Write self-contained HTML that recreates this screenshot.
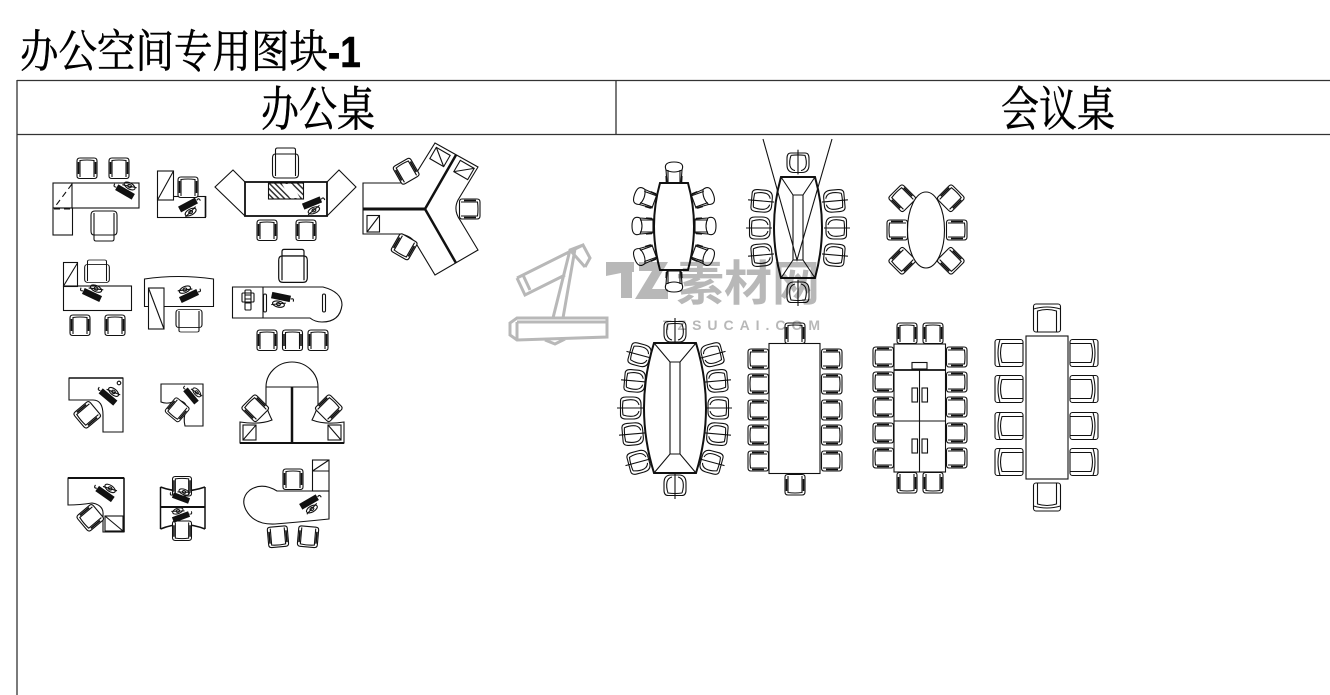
<!DOCTYPE html>
<html lang="zh"><head><meta charset="utf-8"><title>办公空间专用图块-1</title>
<style>
html,body{margin:0;padding:0;background:#fff;width:1330px;height:695px;overflow:hidden}
svg{display:block}
.l *, .l{fill:none;stroke:#111;stroke-width:1.1}
.f{fill:#fff !important}
.t{stroke-width:1.6 !important}
.k{fill:#111 !important;stroke:#111}
text{font-family:"Liberation Sans","Noto Serif CJK SC",serif;fill:#000;stroke:#000;stroke-width:.45}
.wm{font-family:"Liberation Sans","Noto Sans CJK SC",sans-serif;font-weight:700;fill:#b8b8b8;stroke:none}
.mark{mix-blend-mode:multiply}
</style></head><body>
<svg width="1330" height="695" viewBox="0 0 1330 695" xmlns="http://www.w3.org/2000/svg">
<defs>
<pattern id="h" width="4" height="4" patternUnits="userSpaceOnUse" patternTransform="rotate(-45)"><rect width="1.500" height="4" fill="#333"/></pattern>
<g id="c"><path class="f" d="M-10,-7Q-10,-10 -7,-10H7Q10,-10 10,-7V8Q10,10.500 7,10.500H-7Q-10,10.500 -10,8Z"/><path d="M-7,-7.500Q0,-8.500 7,-7.500M-7,-8V9M7,-8V9"/><path class="t" d="M-8.500,-6V6M8.500,-6V6"/></g>
<g id="x"><path class="f" d="M-7,-10.500H7Q11,-10.500 11,-5V2Q11,10 4,10H-4Q-11,10 -11,2V-5Q-11,-10.500 -7,-10.500Z"/><path d="M-7,-8Q0,-9 7,-8Q9,-2 8,3Q7,7 3,8M-7,-8Q-9,-2 -8,3Q-7,7 -3,8"/><path d="M0,-14V12"/></g>
<g id="d"><path class="f" d="M-7,10L-8,-3Q-11,-11 0,-11Q11,-11 8,-3L7,10Z"/><path d="M-8,-3Q0,1 8,-3M-6,-3V10M6,-3V10"/><path class="t" d="M-7.500,9L-7.800,3M7.500,9L7.800,3"/></g>
<g id="a"><rect class="f" x="-13.500" y="-14" width="27" height="28" rx="2.500"/><path d="M-9.500,14V-7Q0,-10 9.500,-7V14M-13.500,-9Q0,-13 13.500,-9"/></g>
<g id="b"><path class="f" d="M-10,-10V-14Q-10,-16 -8,-16H8Q10,-16 10,-14V-10Z"/><path class="f" d="M-13,-6Q-13,-10 -10,-10H10Q13,-10 13,-6V10Q13,14 9,14H-9Q-13,14 -13,10Z"/><path d="M-10,-10V12M10,-10V12"/></g>
<g id="p"><rect class="k" x="-9" y="-2.700" width="18" height="5.400"/><path d="M10,0q3,-2 3,2" /><ellipse cx="-1" cy="7.500" rx="6" ry="3"/><ellipse cx="-1" cy="7.500" rx="2" ry="1.500"/><path d="M-8,9.500L6,5"/></g>
</defs>

<!-- title and frame -->
<text transform="translate(20,67) scale(1,1.17)" font-size="38.500">办公空间专用图块<tspan font-size="37" font-weight="700">-1</tspan></text>
<path d="M17,80.500H1330M17,134.500H1330M17,80V695M616,80V134" fill="none" stroke="#333" stroke-width="1.300"/>
<text transform="translate(261,126) scale(1,1.25)" font-size="38">办公桌</text>
<text transform="translate(1001,126) scale(1,1.25)" font-size="38">会议桌</text>

<g class="l">
<!-- desk 1 -->
<rect x="53" y="183" width="86" height="25"/><rect x="53" y="208" width="19.500" height="27"/>
<path d="M72,183V208" /><path d="M72,184L54,208M54,209H72" stroke-dasharray="6 4"/>
<use href="#c" x="87" y="168"/><use href="#c" x="119" y="168"/>
<use href="#b" transform="translate(104,225) rotate(180)"/>
<use href="#p" transform="translate(125,192) rotate(210)"/>
<!-- desk 2 -->
<rect x="157.500" y="196.500" width="48" height="21"/><rect x="157.500" y="171" width="16" height="29" class="f"/><path d="M157.500,200L173.500,171"/>
<path class="t" d="M205.500,196V217"/>
<use href="#c" x="188" y="187"/>
<use href="#p" transform="translate(188,205) rotate(-28)"/>
<!-- desk 3 -->
<rect x="63.500" y="286" width="68" height="24.500"/><rect x="63.500" y="262.500" width="14" height="24"/><path d="M63.500,286L77.500,263"/>
<use href="#b" transform="translate(97,272) scale(.95,.75)"/>
<use href="#c" x="80" y="325"/><use href="#c" x="115" y="325"/>
<use href="#p" transform="translate(92,295) rotate(205)"/>
<!-- desk 4 -->
<path d="M144.500,306.500V279Q178,274 213.500,279V306.500Z"/><rect x="148.500" y="288" width="15.500" height="41" class="f"/><path d="M148.500,288L164,329"/>
<use href="#b" transform="translate(189,320) rotate(180) scale(1,.75)"/>
<use href="#p" transform="translate(189,296) rotate(-25) scale(1,-1)"/>
<!-- desk 5 -->
<path d="M245,182L233,170L215,187L245,216M327,182L339,170L356,187L327,216"/>
<rect x="245" y="182" width="82" height="34" style="stroke-width:1.800"/>
<rect x="268.500" y="183" width="35" height="16" style="fill:url(#h)"/>
<path d="M282,184H292L300,198H290Z" class="f" style="stroke:none"/>
<use href="#b" transform="translate(285.500,164)"/>
<use href="#c" x="267" y="230"/><use href="#c" x="306" y="230"/>
<use href="#p" transform="translate(312,203) rotate(-22)"/>
<!-- Y desk -->
<path d="M363,183H400Q413,181 417,172L435,143L478,167L458,200Q453,210 460,220L478,250L435,275L417,245Q411,235 400,234H363Z"/>
<path d="M363,209H425" style="stroke-width:3"/><path d="M425,209L456,155M425,209L456,263" style="stroke-width:2.500"/>
<rect x="367" y="215.500" width="12.500" height="16.500"/><path d="M367,232L379.500,215.500"/>
<g transform="translate(440,157) rotate(30)"><rect x="-8" y="-6.500" width="16" height="13"/><path d="M-8,-6.500L8,6.500"/></g>
<g transform="translate(464,170) rotate(30)"><rect x="-8" y="-6.500" width="16" height="13"/><path d="M-8,6.500L8,-6.500"/></g>
<use href="#c" transform="translate(406,171) rotate(-30)"/>
<use href="#c" transform="translate(470,209) rotate(90)"/>
<use href="#c" transform="translate(404,247) rotate(-150)"/>
<!-- desk 6 -->
<path d="M232.500,287H323Q342,292 342,305Q340,322 322,322Q315,322 310,318H232.500ZM263,287V318"/>
<use href="#b" transform="translate(293,267) scale(1.100)"/>
<use href="#c" x="267" y="340"/><use href="#c" x="292.500" y="340"/><use href="#c" x="318" y="340"/>
<use href="#p" transform="translate(281,297) rotate(12)"/>
<rect x="263.500" y="294" width="3" height="18" rx="1.500"/><rect x="322.500" y="294" width="3" height="18" rx="1.500"/>
<rect x="242" y="293" width="12" height="9" rx="1"/><rect x="245" y="290" width="6" height="20" rx="1"/><path d="M245,295H251M245,299H251M245,303H251"/>
<!-- L1 -->
<path d="M69,378H123V432H103V415Q103,400 93,400H69Z"/><path d="M69,378H123" style="stroke-width:1.500"/>
<circle cx="119" cy="383" r="1.800"/>
<use href="#c" transform="translate(87,415) rotate(-130)"/>
<use href="#p" transform="translate(108,397) rotate(220)"/>
<!-- L2 -->
<path d="M161,384H203V426H185Q183,418 186,410Q188,402 178,400Q168,405 161,402Z"/>
<use href="#c" transform="translate(177,410) rotate(-140) scale(.9)"/>
<use href="#p" transform="translate(191,396) rotate(230) scale(.9)"/>
<!-- L3 -->
<path d="M266,387A26,25 0 0 1 318,387ZM266,387V405Q268,412 272,420Q260,425 240,422V443H344V422Q325,425 312,420Q316,412 318,405V387"/>
<path d="M292,387V443" style="stroke-width:2.500"/><path d="M240,443H344" style="stroke-width:2"/>
<rect x="243" y="425" width="13" height="15"/><path d="M243,440L256,425"/>
<rect x="328" y="425" width="13" height="15"/><path d="M328,425L341,440"/>
<use href="#c" transform="translate(255,408) rotate(-45)"/>
<use href="#c" transform="translate(329,408) rotate(45)"/>
<!-- L4 -->
<path d="M68,478H124V532H103V515Q104,505 92,503Q80,505 68,505Z"/><path d="M68,478H124" style="stroke-width:2"/><path d="M124,478V532" style="stroke-width:1.500"/>
<rect x="105" y="516" width="18" height="15"/><path d="M105,516L123,531"/>
<use href="#c" transform="translate(90,518) rotate(-130)"/>
<use href="#p" transform="translate(105,494) rotate(215)"/>
<!-- L5 -->
<path d="M160.500,487V529M205,487V529M160.500,487Q182,495 205,487M160.500,507H205M160.500,529Q182,520 205,529" style="stroke-width:1.500"/>
<use href="#c" transform="translate(182,486) scale(.95)"/>
<use href="#c" transform="translate(182,531) rotate(180) scale(.95)"/>
<use href="#p" transform="translate(181,498) rotate(200) scale(.9)"/>
<use href="#p" transform="translate(181,517) rotate(-20) scale(.9,-.9)"/>
<path d="M160.500,507H205" style="stroke-width:2"/>
<!-- L6 -->
<rect x="312.500" y="460" width="16.500" height="31"/><path d="M312.500,471H329M312.500,471L329,460"/>
<path d="M329,491H277Q262,482 250,490Q240,498 246,510Q254,525 275,524Q300,522 329,519Z"/>
<use href="#c" transform="translate(293,479)"/>
<use href="#c" transform="translate(278,537) rotate(175)"/>
<use href="#c" transform="translate(308,537) rotate(185)"/>
<use href="#p" transform="translate(309,502) rotate(-30)"/>

<!-- table 1 -->
<use href="#d" x="674" y="173"/><use href="#d" transform="translate(674,281) rotate(180)"/>
<use href="#d" transform="translate(645,198) rotate(-70)"/><use href="#d" transform="translate(643,226) rotate(-90)"/><use href="#d" transform="translate(645,255) rotate(-110)"/>
<use href="#d" transform="translate(703,198) rotate(70)"/><use href="#d" transform="translate(705,226) rotate(90)"/><use href="#d" transform="translate(703,255) rotate(110)"/>
<path class="f" d="M660,183H688Q700,226 688,270H660Q648,226 660,183Z" style="stroke-width:2"/>
<!-- table 2 -->
<use href="#x" transform="translate(798,163) scale(1,.95)"/><use href="#x" transform="translate(798,292) rotate(180)"/>
<use href="#x" transform="translate(762,201) rotate(-85)"/><use href="#x" transform="translate(760,228) rotate(-90)"/><use href="#x" transform="translate(762,255) rotate(-95)"/>
<use href="#x" transform="translate(834,201) rotate(85)"/><use href="#x" transform="translate(836,228) rotate(90)"/><use href="#x" transform="translate(834,255) rotate(95)"/>
<path class="f" d="M781,177H815Q829,227 815,278H781Q767,227 781,177Z" style="stroke-width:2"/>
<path d="M781,177L793,195H803L815,177M793,195V260M803,195V260M781,278L793,260H803L815,278"/>
<path d="M763,139L797,260L832,139"/>
<!-- table 3 ellipse -->
<use href="#c" transform="translate(902,198) rotate(-45)"/><use href="#c" transform="translate(951,198) rotate(45)"/>
<use href="#c" transform="translate(897,230) rotate(-90)"/><use href="#c" transform="translate(957,230) rotate(90)"/>
<use href="#c" transform="translate(902,261) rotate(-135)"/><use href="#c" transform="translate(951,261) rotate(135)"/>
<ellipse class="f" cx="926" cy="230" rx="18.500" ry="38"/>
<!-- table 4 -->
<use href="#x" x="675" y="332"/><use href="#x" transform="translate(675,485) rotate(180)"/>
<use href="#x" transform="translate(640,355) rotate(-75)"/><use href="#x" transform="translate(635,381) rotate(-85)"/><use href="#x" transform="translate(631,408) rotate(-90)"/><use href="#x" transform="translate(633,434) rotate(-95)"/><use href="#x" transform="translate(639,462) rotate(-105)"/>
<use href="#x" transform="translate(712,355) rotate(75)"/><use href="#x" transform="translate(717,381) rotate(85)"/><use href="#x" transform="translate(718,408) rotate(90)"/><use href="#x" transform="translate(717,434) rotate(95)"/><use href="#x" transform="translate(711,462) rotate(105)"/>
<path class="f" d="M654,343H696Q716,408 696,473H654Q634,408 654,343Z" style="stroke-width:2"/>
<path d="M654,343L670,362H680L696,343M670,362V454M680,362V454M654,473L670,454H680L696,473"/>
<!-- table 5 rect -->
<use href="#c" transform="translate(795,333)"/><use href="#c" transform="translate(795,485) rotate(180)"/>
<use href="#c" transform="translate(758,359) rotate(-90)"/><use href="#c" transform="translate(758,384) rotate(-90)"/><use href="#c" transform="translate(758,410) rotate(-90)"/><use href="#c" transform="translate(758,435) rotate(-90)"/><use href="#c" transform="translate(758,461) rotate(-90)"/>
<use href="#c" transform="translate(832,359) rotate(90)"/><use href="#c" transform="translate(832,384) rotate(90)"/><use href="#c" transform="translate(832,410) rotate(90)"/><use href="#c" transform="translate(832,435) rotate(90)"/><use href="#c" transform="translate(832,461) rotate(90)"/>
<rect class="f" x="769" y="343.500" width="51" height="130"/>
<!-- table 6 cabinets -->
<use href="#c" x="907" y="333"/><use href="#c" x="933" y="333"/>
<use href="#c" transform="translate(907,483) rotate(180)"/><use href="#c" transform="translate(933,483) rotate(180)"/>
<use href="#c" transform="translate(883,357) rotate(-90)"/><use href="#c" transform="translate(883,382) rotate(-90)"/><use href="#c" transform="translate(883,407) rotate(-90)"/><use href="#c" transform="translate(883,433) rotate(-90)"/><use href="#c" transform="translate(883,458) rotate(-90)"/>
<use href="#c" transform="translate(957,357) rotate(90)"/><use href="#c" transform="translate(957,382) rotate(90)"/><use href="#c" transform="translate(957,407) rotate(90)"/><use href="#c" transform="translate(957,433) rotate(90)"/><use href="#c" transform="translate(957,458) rotate(90)"/>
<rect class="f" x="894" y="344" width="51.500" height="128"/>
<path d="M894,370H945" style="stroke-width:1.800"/><path d="M894,421H945M919.500,370V472"/>
<rect x="912" y="362.500" width="15" height="6.500"/>
<rect x="912" y="388" width="5.500" height="14"/><rect x="922" y="388" width="5.500" height="14"/>
<rect x="912" y="439" width="5.500" height="14"/><rect x="922" y="439" width="5.500" height="14"/>
<!-- table 7 armchairs -->
<use href="#a" x="1047" y="318"/><use href="#a" transform="translate(1047,497) rotate(180)"/>
<use href="#a" transform="translate(1009,353) rotate(-90)"/><use href="#a" transform="translate(1009,389) rotate(-90)"/><use href="#a" transform="translate(1009,426) rotate(-90)"/><use href="#a" transform="translate(1009,462) rotate(-90)"/>
<use href="#a" transform="translate(1084,353) rotate(90)"/><use href="#a" transform="translate(1084,389) rotate(90)"/><use href="#a" transform="translate(1084,426) rotate(90)"/><use href="#a" transform="translate(1084,462) rotate(90)"/>
<rect class="f" x="1026" y="336" width="42" height="143"/>
</g>

<!-- watermark, multiplied over the drawing so the linework shows through -->
<g class="mark">
<g fill="none" stroke="#b8b8b8" stroke-width="3">
<path d="M517,278L583,245L590,258L585,267M517,278L525,295L565,275M523,275L530,290M583,245L570,250L553,318M575,249L563,318M570,250L585,267"/>
<path d="M517,318H607V337L517,340L510,335V323ZM517,322V340M517,322H607M545,340L555,344L565,339"/>
</g>
<path d="M606,262H634V272H632V298H621V273L606,276ZM639,262H668L652,289H668V299H635L652,271H639Z" fill="#b8b8b8"/>
<text class="wm" x="676" y="300" font-size="48">素材网</text>
<text class="wm" x="663" y="330" font-size="14" textLength="157" lengthAdjust="spacing">TZSUCAI.COM</text>
</g>
</svg>
</body></html>
